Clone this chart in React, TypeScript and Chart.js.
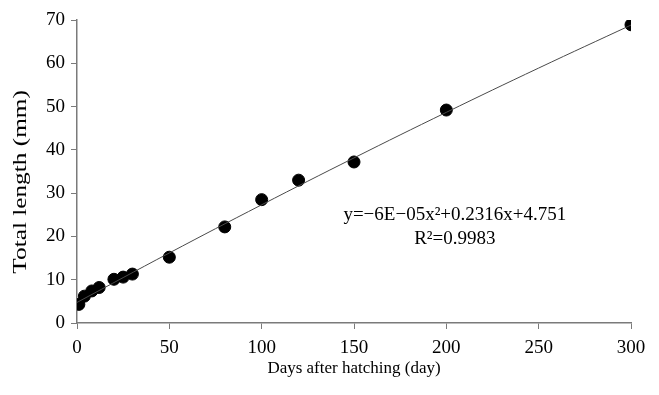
import React, { useEffect, useRef } from "react";
import { Chart, registerables } from "chart.js";

Chart.register(...registerables);

const days = [1, 4, 8, 12, 20, 25, 30, 50, 80, 100, 120, 150, 200, 300];
const lengths = [4.3, 6.2, 7.4, 8.2, 10.1, 10.6, 11.3, 15.2, 22.2, 28.5, 33.0, 37.2, 49.2, 68.9];

const trendDays = [0, 50, 100, 150, 200, 250, 300];
const trendLengths = [4.75, 16.18, 27.31, 38.14, 48.67, 58.9, 68.83];

const xTicks = [0, 50, 100, 150, 200, 250, 300];
const yTicks = [0, 10, 20, 30, 40, 50, 60, 70];

const yTitle = "Total length (mm)";
const xTitle = "Days after hatching (day)";
const equationText = "y=\u22126E\u221205x\u00b2+0.2316x+4.751";
const r2Text = "R\u00b2=0.9983";

const FONT = "'Liberation Serif', 'Times New Roman', serif";

const textPlugin = {
  id: "texts",
  afterDraw(chart: any) {
    const ctx = chart.ctx;
    const xs = chart.scales.x;
    const ys = chart.scales.y;
    ctx.save();
    ctx.fillStyle = "#000";
    ctx.font = `19px ${FONT}`;
    ctx.textAlign = "center";
    ctx.textBaseline = "middle";
    ctx.fillText(equationText, xs.getPixelForValue(204.6), ys.getPixelForValue(24.9));
    ctx.fillText(r2Text, xs.getPixelForValue(204.6), ys.getPixelForValue(19.3));
    ctx.restore();

    // stretched vertical axis title, as in the reference
    ctx.save();
    ctx.fillStyle = "#000";
    ctx.font = `19px ${FONT}`;
    ctx.textAlign = "center";
    ctx.textBaseline = "middle";
    ctx.translate(21.5, ys.getPixelForValue(32.6));
    ctx.rotate(-Math.PI / 2);
    ctx.scale(1.33, 1);
    ctx.fillText(yTitle, 0, 0);
    ctx.restore();
  },
};

export default function App() {
  const ref = useRef<HTMLCanvasElement | null>(null);
  useEffect(() => {
    document.body.style.margin = "0";
    const canvas = ref.current!;
    const axisColor = "#7a7a7a";
    const chart = new Chart(canvas, {
      type: "scatter",
      data: {
        datasets: [
          {
            type: "line",
            data: trendDays.map((d, i) => ({ x: d, y: trendLengths[i] })),
            borderColor: "#4a4a4a",
            borderWidth: 1,
            pointRadius: 0,
            fill: false,
            tension: 0.4,
          } as any,
          {
            data: days.map((d, i) => ({ x: d, y: lengths[i] })),
            backgroundColor: "#000",
            borderColor: "#000",
            pointRadius: 6,
            pointHoverRadius: 6,
          },
        ],
      },
      options: {
        animation: false,
        responsive: false,
        maintainAspectRatio: false,
        layout: { padding: { left: 0, right: 28, top: 20, bottom: 0 } },
        plugins: { legend: { display: false }, tooltip: { enabled: false } },
        scales: {
          x: {
            type: "linear",
            min: 0,
            max: 300,
            afterBuildTicks: (s: any) => {
              s.ticks = xTicks.map((v) => ({ value: v }));
            },
            afterFit: (s: any) => {
              s.height = 72;
            },
            grid: { drawOnChartArea: false, drawTicks: true, tickLength: 6, color: axisColor },
            border: { color: axisColor, width: 1.5 },
            ticks: { color: "#000", font: { family: FONT, size: 19 }, padding: 8, maxRotation: 0 },
            title: {
              display: true,
              text: xTitle,
              color: "#000",
              font: { family: FONT, size: 17 },
              padding: { top: 4, bottom: 16 },
            },
          },
          y: {
            type: "linear",
            min: 0,
            max: 70,
            afterBuildTicks: (s: any) => {
              s.ticks = yTicks.map((v) => ({ value: v }));
            },
            afterFit: (s: any) => {
              s.width = 77;
            },
            grid: { drawOnChartArea: false, drawTicks: true, tickLength: 6, color: axisColor },
            border: { color: axisColor, width: 1.5 },
            ticks: { color: "#000", font: { family: FONT, size: 19 }, padding: 6 },
            title: { display: false },
          },
        },
      },
      plugins: [textPlugin],
    });
    return () => chart.destroy();
  }, []);
  return (
    <div style={{ width: 659, height: 395, position: "relative" }}>
      <canvas ref={ref} width={659} height={395} style={{ width: 659, height: 395, display: "block" }} />
    </div>
  );
}
